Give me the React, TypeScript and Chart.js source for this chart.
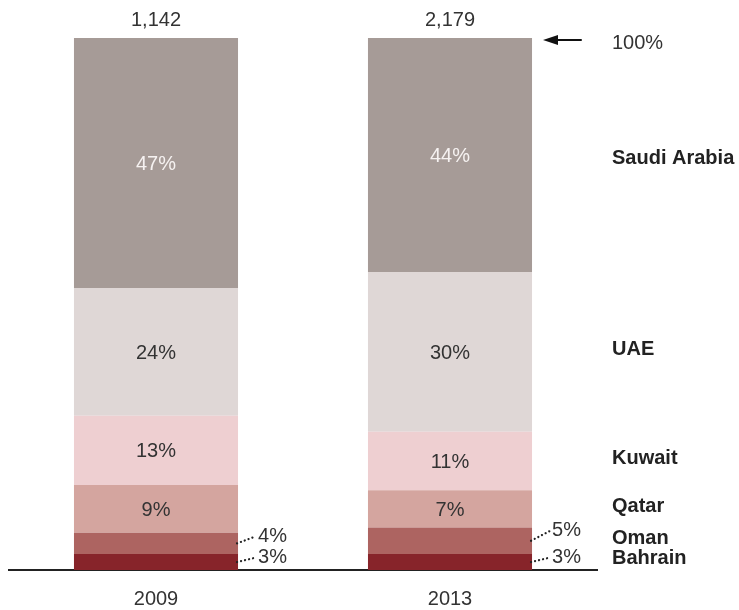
import React, { useEffect, useRef } from "react";
import { Chart, registerables } from "chart.js";

Chart.register(...registerables);

const years = ["2009", "2013"];
const totals = ["1,142", "2,179"];
const countries = ["Bahrain", "Oman", "Qatar", "Kuwait", "UAE", "Saudi Arabia"];
const bahrain = [3, 3];
const oman = [4, 5];
const qatar = [9, 7];
const kuwait = [13, 11];
const uae = [24, 30];
const saudi = [47, 44];
const topLabel = "100%";

const seriesValues = [bahrain, oman, qatar, kuwait, uae, saudi];
const colors = ["#87242a", "#ad6461", "#d4a59f", "#eecfd1", "#dfd7d6", "#a69b97"];
const textColors = ["#333", "#333", "#333", "#333", "#333", "#f6f2f1"];

const FONT = "'Liberation Sans', Arial, Helvetica, sans-serif";

const labelPlugin = {
  id: "labels",
  afterDatasetsDraw(chart: any) {
    const ctx = chart.ctx;
    ctx.save();
    ctx.textBaseline = "middle";
    chart.data.datasets.forEach((ds: any, di: number) => {
      const meta = chart.getDatasetMeta(di);
      meta.data.forEach((el: any, i: number) => {
        const v = ds.data[i];
        const top = el.y;
        const base = el.base;
        const mid = (top + base) / 2;
        const right = el.x + el.width / 2;
        ctx.font = `20px ${FONT}`;
        if (v >= 6) {
          ctx.fillStyle = textColors[di];
          ctx.textAlign = "center";
          ctx.fillText(`${v}%`, el.x, mid + 1.5);
        } else {
          const ly = top + 2.5;
          ctx.strokeStyle = "#222";
          ctx.lineWidth = 2.2;
          ctx.lineCap = "round";
          ctx.setLineDash([0.1, 4]);
          ctx.beginPath();
          ctx.moveTo(right - 1, mid);
          ctx.lineTo(right + 18, ly + 1);
          ctx.stroke();
          ctx.setLineDash([]);
          ctx.fillStyle = "#333";
          ctx.textAlign = "left";
          ctx.fillText(`${v}%`, right + 20, ly + 1);
        }
      });
    });
    // totals above bars and year labels below, positioned by the x scale
    const xs = chart.scales.x;
    ctx.font = `20px ${FONT}`;
    ctx.fillStyle = "#333";
    ctx.textAlign = "center";
    chart.data.labels.forEach((lab: string, i: number) => {
      const x = xs.getPixelForValue(i);
      ctx.fillText(totals[i], x, 20);
      ctx.fillText(lab, x, 599);
    });
    // arrow + 100%
    const yTop = chart.scales.y.getPixelForValue(100);
    ctx.strokeStyle = "#111";
    ctx.fillStyle = "#111";
    ctx.lineWidth = 2;
    ctx.beginPath();
    ctx.moveTo(556, yTop + 2);
    ctx.lineTo(581, yTop + 2);
    ctx.stroke();
    ctx.beginPath();
    ctx.moveTo(543, yTop + 2);
    ctx.lineTo(558, yTop - 3);
    ctx.lineTo(558, yTop + 7);
    ctx.closePath();
    ctx.fill();
    ctx.fillStyle = "#333";
    ctx.textAlign = "left";
    ctx.fillText(topLabel, 612, yTop + 5);
    // country labels at last bar segments
    const last = chart.data.labels.length - 1;
    ctx.font = `bold 20px ${FONT}`;
    ctx.fillStyle = "#222";
    chart.data.datasets.forEach((ds: any, di: number) => {
      const el = chart.getDatasetMeta(di).data[last];
      const mid = (el.y + el.base) / 2;
      const off = di === 0 ? -4 : di === chart.data.datasets.length - 1 ? 3 : -2;
      ctx.fillText(countries[di], 612, mid + off);
    });
    ctx.restore();
  },
};

export default function App() {
  const ref = useRef<HTMLCanvasElement>(null);
  useEffect(() => {
    const chart = new Chart(ref.current as HTMLCanvasElement, {
      type: "bar",
      data: {
        labels: years,
        datasets: seriesValues.map((vals, i) => ({
          label: countries[i],
          data: vals,
          backgroundColor: colors[i],
          borderWidth: 0,
          barPercentage: 0.558,
          categoryPercentage: 1,
        })),
      },
      options: {
        animation: false,
        responsive: false,
        maintainAspectRatio: false,
        layout: { padding: { top: 38, left: 9, right: 142, bottom: 40 } },
        plugins: { legend: { display: false }, tooltip: { enabled: false } },
        scales: {
          x: {
            stacked: true,
            grid: { display: false, drawTicks: false, tickLength: 0 },
            border: { display: true, color: "#222", width: 2 },
            ticks: { display: false },
          },
          y: {
            stacked: true,
            display: false,
            min: 0,
            max: 100,
          },
        },
      },
      plugins: [labelPlugin],
    });
    return () => chart.destroy();
  }, []);
  return (
    <div style={{ position: "fixed", left: 0, top: 0, width: 739, height: 610, background: "#fff" }}>
      <canvas ref={ref} width={739} height={610} style={{ display: "block" }} />
    </div>
  );
}
